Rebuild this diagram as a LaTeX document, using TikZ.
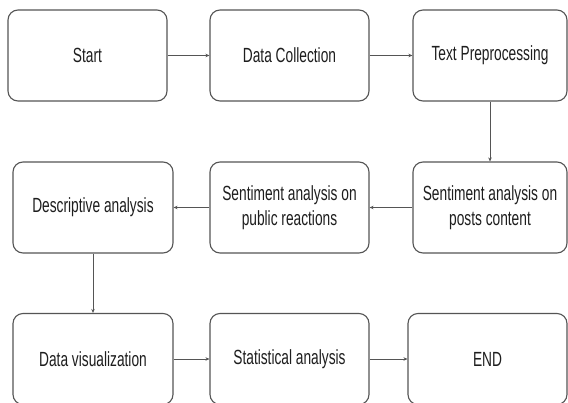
\documentclass[tikz,border=0pt]{standalone}
\usepackage{fontspec}
\setmainfont{Liberation Sans}[FakeStretch=0.67]
\usetikzlibrary{arrows.meta,positioning}
\definecolor{boxline}{HTML}{555555}
\definecolor{boxtext}{HTML}{1E1E1E}
\tikzset{
	box/.style={draw=boxline,line width=1.1pt,rectangle,rounded corners=10pt,align=center,
		minimum height=91pt,text=boxtext,font=\fontsize{20.5}{25}\selectfont},
	flow/.style={draw=boxline,line width=0.9pt,-{Stealth[length=4pt,width=3.5pt]}}
}
\begin{document}
\begin{tikzpicture}[x=1pt,y=1pt]
			\path[use as bounding box,fill=white] (0,0) rectangle (568,-403);

			\node[box,minimum width=159pt] (S) at (87.5, -55.5) {Start};
			\node[box,minimum width=159pt] (DC) at (289.5, -55.5) {Data Collection};
			\node[box,minimum width=154pt] (TP) at (490, -55.5) {Text Preprocessing};

			\node[box,minimum width=160pt] (DA) at (93, -207.5) {Descriptive analysis};
			\node[box,minimum width=159pt] (SR) at (289.5, -207.5) {Sentiment analysis on\\public reactions};
			\node[box,minimum width=154pt] (SP) at (490, -207.5) {Sentiment analysis on\\posts content};

			\node[box,minimum width=160pt] (DV) at (93, -359) {Data visualization};
			\node[box,minimum width=159pt] (SA) at (289.5, -359) {Statistical analysis};
			\node[box,minimum width=159pt] (E) at (487.5, -359) {END};

			\draw[flow] (S) -- (DC);
			\draw[flow] (DC) -- (TP);
			\draw[flow] (TP) -- (SP);
			\draw[flow] (SP) -- (SR);
			\draw[flow] (SR) -- (DA);
			\draw[flow] (DA) -- (DV);
			\draw[flow] (DV) -- (SA);
			\draw[flow] (SA) -- (E);
		\end{tikzpicture}
\end{document}
